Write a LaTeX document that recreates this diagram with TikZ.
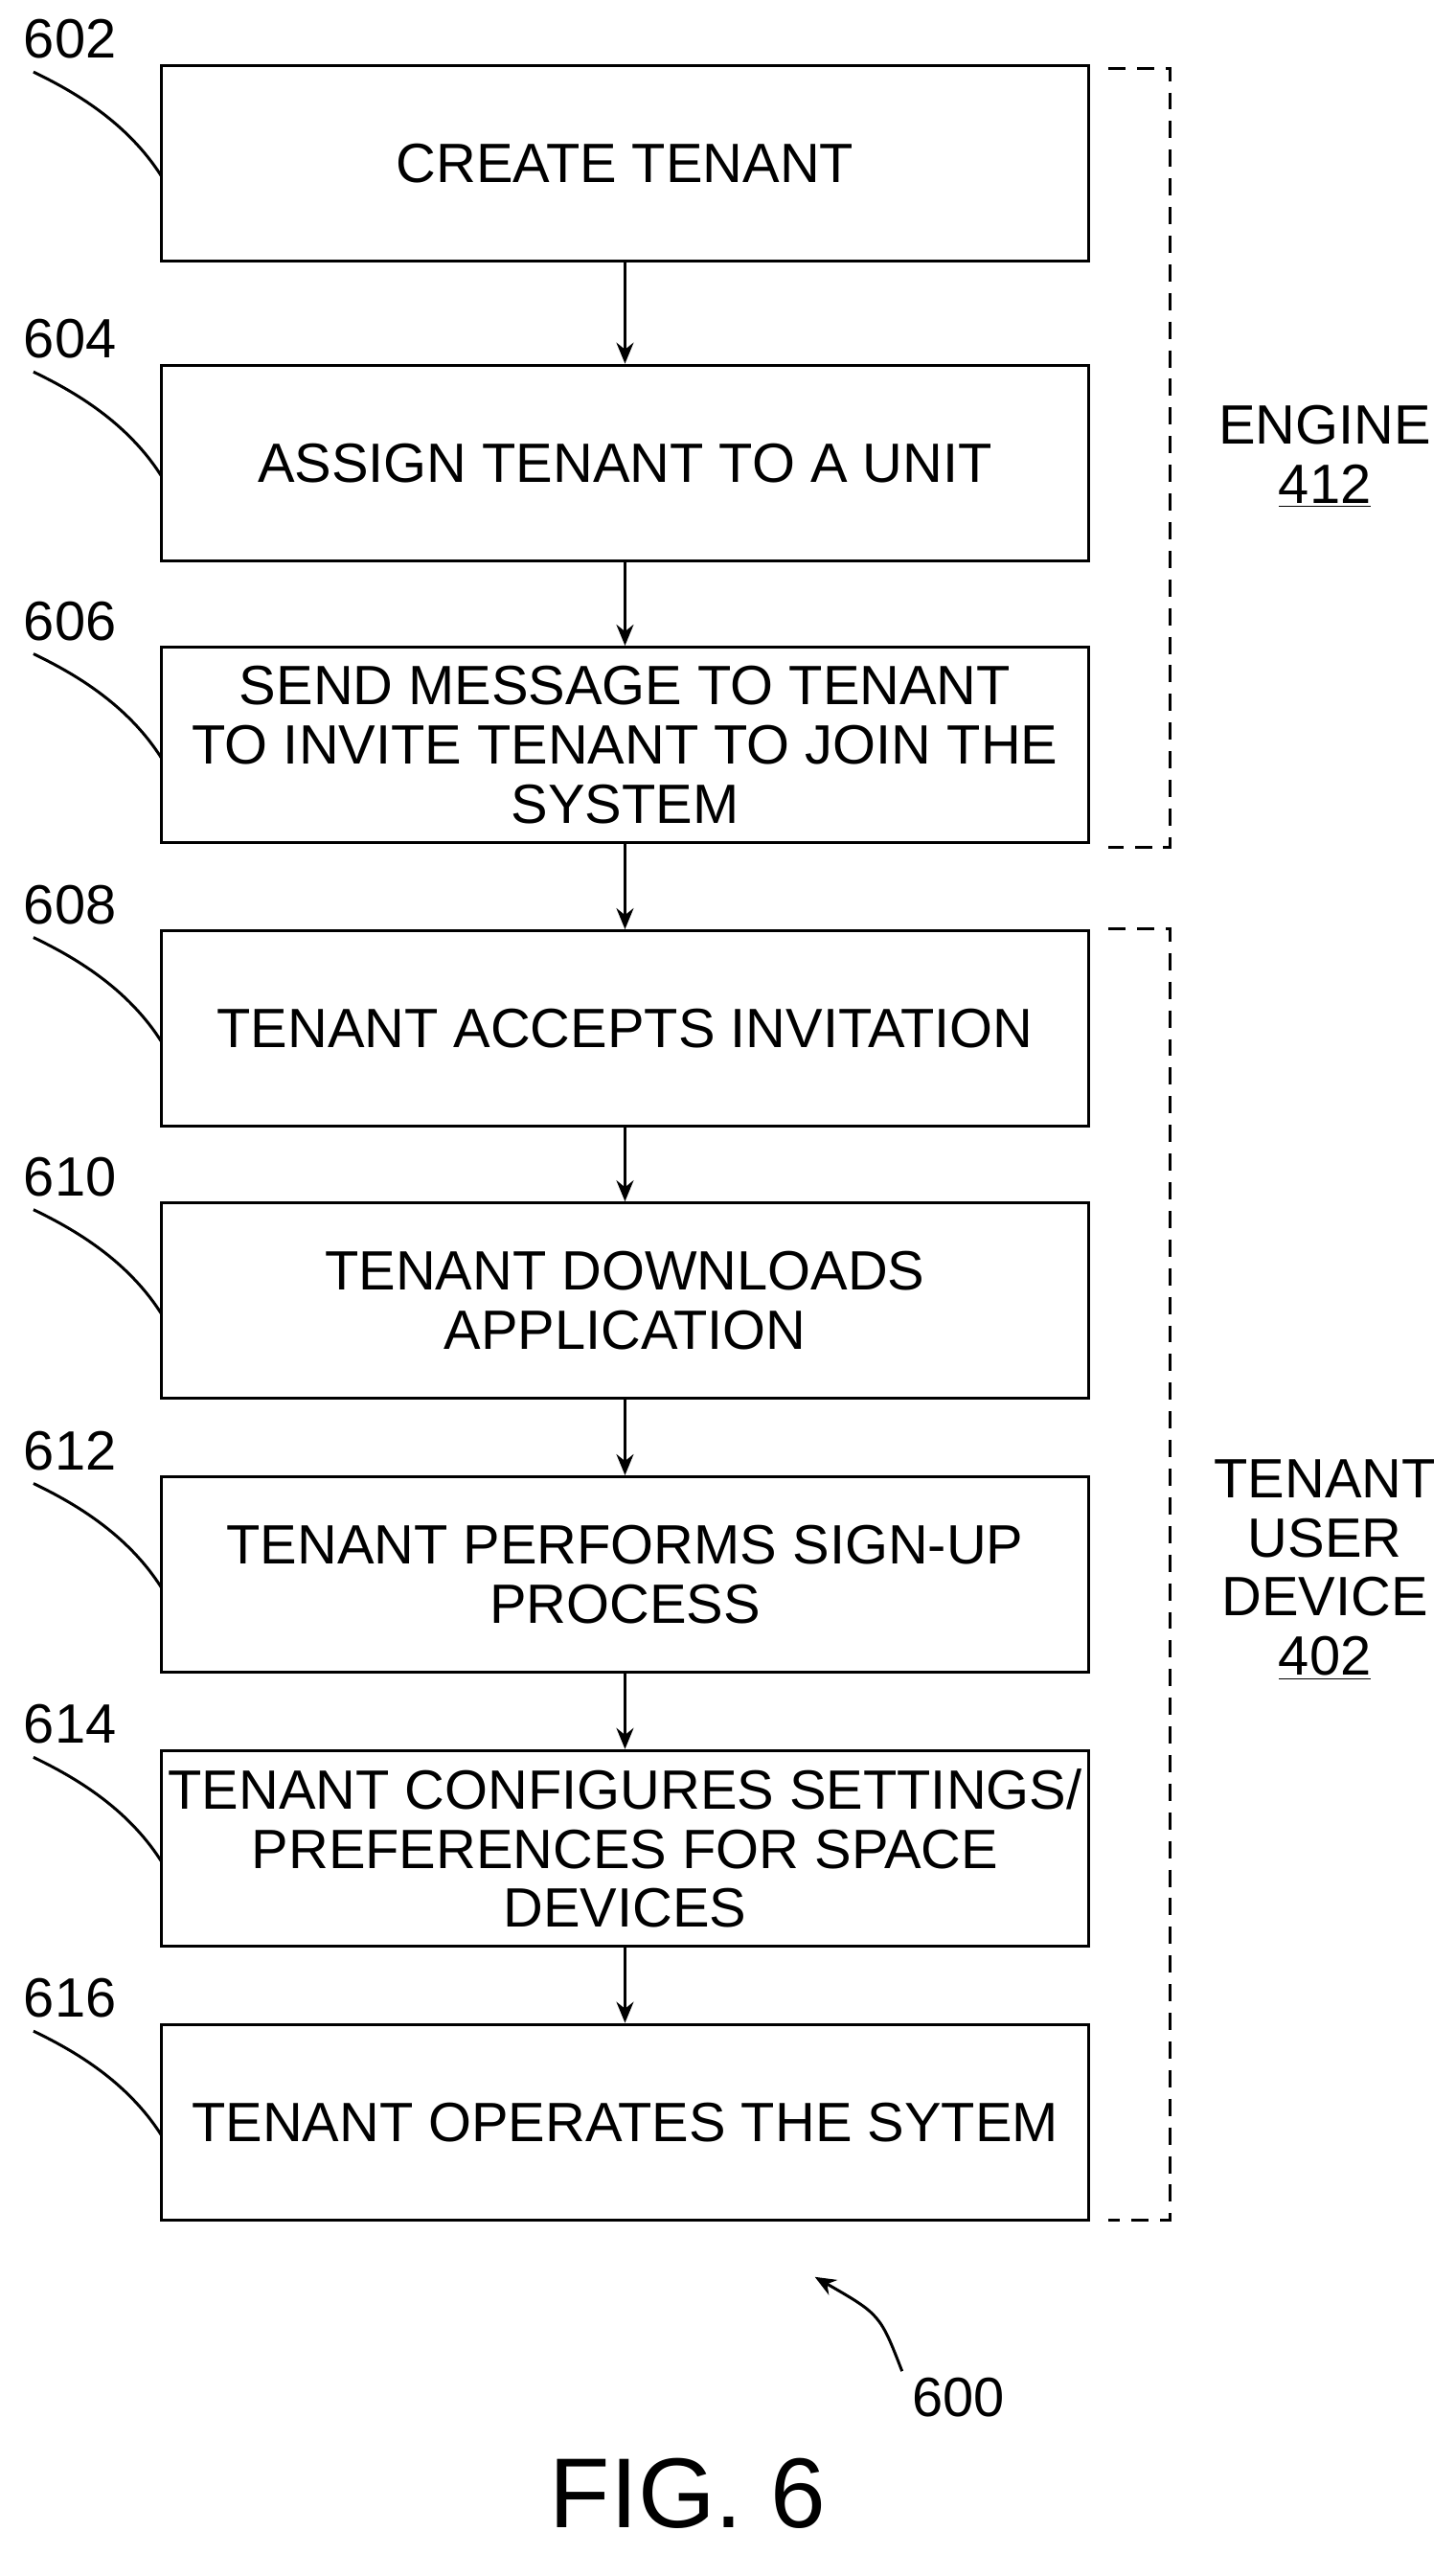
\documentclass[tikz,border=0pt]{standalone}
\usepackage{fontspec}
\setmainfont{Liberation Sans}
\usetikzlibrary{arrows.meta}
\begin{document}
\begin{tikzpicture}[x=0.03cm,y=-0.03cm,
  box/.style={draw,line width=1.5pt,minimum width=569*0.03cm,minimum height=120*0.03cm,align=center,font=\fontsize{29}{31}\selectfont,inner sep=0pt},
  num/.style={font=\fontsize{29}{31}\selectfont},
  arr/.style={-{Stealth[length=11pt,width=9pt]},line width=1.5pt},
  lead/.style={line width=1.5pt},
  brk/.style={line width=1.5pt,dash pattern=on 9pt off 6pt}]
\useasboundingbox (0,0) rectangle (893,1567);
\node[box] (b1) at (383.5,100) {CREATE TENANT};
\node[box] (b2) at (383.5,284) {ASSIGN TENANT TO A UNIT};
\node[box] (b3) at (383.5,457) {SEND MESSAGE TO TENANT\\TO INVITE TENANT TO JOIN THE\\SYSTEM};
\node[box] (b4) at (383.5,631) {TENANT ACCEPTS INVITATION};
\node[box] (b5) at (383.5,798) {TENANT DOWNLOADS\\APPLICATION};
\node[box] (b6) at (383.5,966) {TENANT PERFORMS SIGN-UP\\PROCESS};
\node[box] (b7) at (383.5,1134) {TENANT CONFIGURES SETTINGS/\\PREFERENCES FOR SPACE\\DEVICES};
\node[box] (b8) at (383.5,1302) {TENANT OPERATES THE SYTEM};
\foreach \a/\b in {b1/b2,b2/b3,b3/b4,b4/b5,b5/b6,b6/b7,b7/b8}
  \draw[arr] (\a.south) -- (\b.north);
\foreach \n/\y/\t in {n1/100/602,n2/284/604,n3/457/606,n4/631/608,n5/798/610,n6/966/612,n7/1134/614,n8/1302/616}{
  \node[num] (\n) at (43,\y-76) {\t};
  \coordinate (e\n) at (99,\y+8);
  \draw[lead] (\n.south west)++(10,4) .. controls +(25,12) and (78,\y-25) .. (e\n);
}
\coordinate (t1) at (680,42); \coordinate (t2) at (718,42);
\coordinate (t3) at (718,520); \coordinate (t4) at (680,520);
\draw[brk] (t1) -- (t2) -- (t3) -- (t4);
\coordinate (u1) at (680,570); \coordinate (u2) at (718,570);
\coordinate (u3) at (718,1362); \coordinate (u4) at (680,1362);
\draw[brk] (u1) -- (u2) -- (u3) -- (u4);
\node[num,align=center] (eng) at (813,280) {ENGINE\\\underline{412}};
\node[num,align=center] (dev) at (813,963) {TENANT\\USER\\DEVICE\\\underline{402}};
\node[num] (n600) at (588,1471) {600};
\coordinate (a600) at (500,1397);
\draw[lead,-{Stealth[length=11pt,width=9pt]}] (n600.north west)++(-2,0) .. controls (540,1420) .. (a600);
\node[font=\fontsize{52}{60}\selectfont] (fig) at (422,1530) {FIG. 6};
\end{tikzpicture}
\end{document}
